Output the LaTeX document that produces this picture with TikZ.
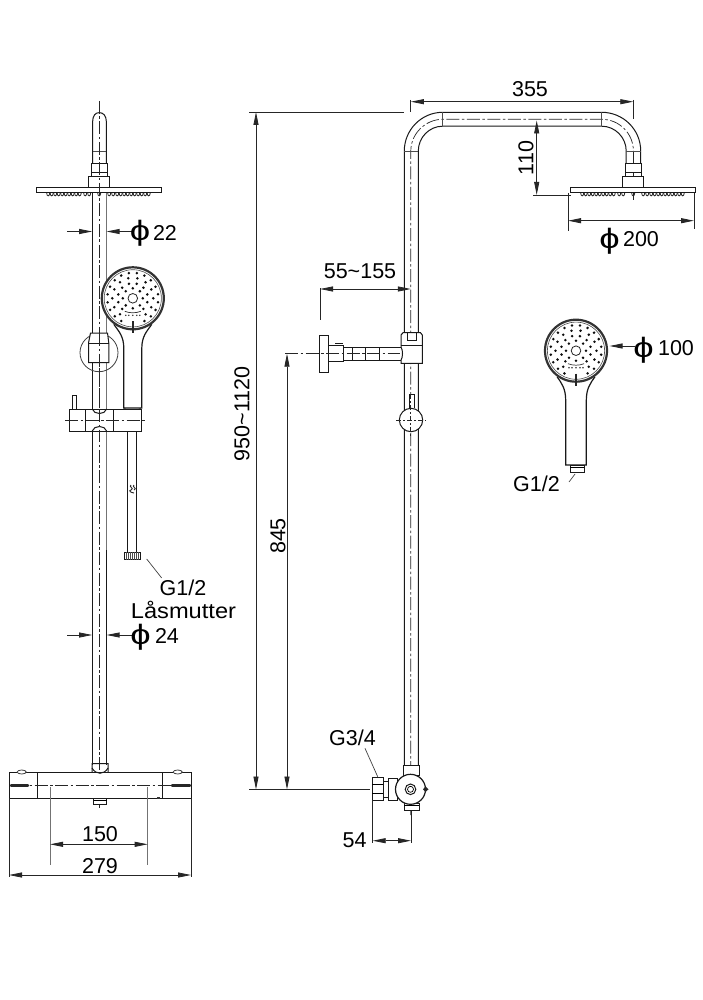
\documentclass[tikz,border=0pt]{standalone}
\usepackage{fontspec}
\setmainfont{Liberation Sans}
\usetikzlibrary{arrows.meta}
\tikzset{
  ln/.style={line width=1pt,draw=black!90},
  gln/.style={line width=1pt,draw=black!55},
  thick line/.style={line width=1.5pt,draw=black!90},
  cl/.style={line width=.7pt,draw=black!85,dash pattern=on 13pt off 2.5pt on 2.5pt off 2.5pt},
  dim/.style={line width=.8pt,draw=black!85},
  dimboth/.style={dim,{Triangle[length=13pt,width=5pt]}-{Triangle[length=13pt,width=5pt]}},
  dimto/.style={dim,-{Triangle[length=13pt,width=5pt]}},
  lab/.style={font=\fontsize{21.5pt}{23pt}\selectfont,inner sep=0pt,text=black},
  phi/.style={font=\fontsize{28pt}{30pt}\selectfont,inner sep=0pt,text=black,xscale=1.3},
}
% plate, block, nozzles of the overhead shower, #1 = centre x
\newcommand{\overhead}[1]{
  \draw[ln,fill=white] (#1-10.5,176.5) rectangle (#1+10.5,188);
  \draw[ln,fill=white] (#1-62.5,188) rectangle (#1+62.5,192.7);
  \foreach \o in {-51,-47.5,...,-18,-14,-10,0,10,14,18,21.5,...,51}{
    \draw[line width=.8pt,draw=black!85] (#1+\o-1.5,193) .. controls (#1+\o-1.5,196.8) and (#1+\o+1.5,196.8) .. (#1+\o+1.5,193);
  }
  \draw[ln] (#1-8,172.5) -- (#1-8,176.5) (#1+8,172.5) -- (#1+8,176.5);
  \draw[ln,fill=white] (#1-8,164) rectangle (#1+8,172.5);
}
% hand shower: #1 cx, #2 cy, #3 half width of the handle, #4 bottom y
\newcommand{\handshower}[4]{
  \draw[ln,line width=1.2pt,fill=white] (#1-19,#2+26) .. controls (#1-14,#2+33) and (#1-#3,#2+38) .. (#1-#3,#2+50)
     -- (#1-#3,#4) -- (#1+#3,#4) -- (#1+#3,#2+50)
     .. controls (#1+#3,#2+38) and (#1+14,#2+33) .. (#1+19,#2+26);
  \draw[line width=2.2pt,draw=black!80,fill=white] (#1,#2) circle[radius=31pt];
  \draw[line width=.6pt,draw=black!70] (#1,#2) circle[radius=28.6pt];
  \draw[line width=.8pt,draw=black!85] (#1,#2) circle[radius=4.8pt];
  \foreach \r/\n/\s in {10/8/0,15/12/15,20.5/14/0,25.5/20/9}{
    \foreach \i in {1,...,\n}{
      \pgfmathsetmacro{\a}{\s+\i*360/\n}
      \pgfmathsetmacro{\dx}{\r*cos(\a)}
      \pgfmathsetmacro{\dy}{\r*sin(\a)}
      \pgfmathparse{(\dy>11 && abs(\dx)<9.5)?0:1}
      \ifnum\pgfmathresult=1
        \fill[black!95] (#1+\dx,#2+\dy) circle[radius=1.4pt];
      \fi
    }
  }
  \draw[line width=.7pt,draw=black!80] (#1-8,#2+13) .. controls (#1-3,#2+15) and (#1+3,#2+15) .. (#1+8,#2+13);
  \foreach \o in {-7,-4,0,4,7}{\fill[black!80] (#1+\o,#2+17) circle[radius=.85pt];}
  \draw[line width=2.2pt,draw=black!85] (#1,#2+23) -- (#1,#2+35);
}
\begin{document}
\begin{tikzpicture}[x=1pt,y=-1pt]
\useasboundingbox (0,0) rectangle (703,1000);
\fill[white] (0,0) rectangle (703,1000);

%==================== LEFT VIEW ====================
% top stub
\draw[ln] (92.6,164) -- (92.6,122) .. controls (92.6,115.5) and (95.5,112.6) .. (99.3,112.6)
  .. controls (103.1,112.6) and (106.4,115.5) .. (106.4,122) -- (106.4,164);
\draw[line width=.6pt,draw=black!70] (92.6,151) -- (106.4,151);
% main pipe
\draw[ln] (92.2,193) -- (92.2,765);
\draw[gln] (106.6,193) -- (106.6,550);
\draw[ln] (106.6,550) -- (106.6,765);
\overhead{99.2}
\draw[cl] (99.3,101) -- (99.3,808);
% bracket behind hand shower
\draw[line width=.8pt,draw=black!75] (99,352.7) circle[radius=19pt];
\draw[ln,fill=white] (90.5,333) -- (107.5,333) -- (108.8,343) -- (108.8,362.7) -- (88.5,362.7) -- (88.5,343) -- cycle;
\draw[ln] (88.5,343) -- (108.8,343);
\draw[cl] (99.3,333) -- (99.3,409);
\handshower{132.8}{298.3}{9}{408}
\draw[line width=.7pt,draw=black!80] (124,408) .. controls (128,412) and (136,412) .. (141,408);
% lower slider
\draw[ln] (72.3,409) -- (72.3,395) -- (76.7,395) -- (76.7,409);
\draw[ln,fill=white] (69,409) rectangle (141,431);
\draw[ln] (85.3,409) -- (85.3,431) (113.3,409) -- (113.3,431);
\draw[ln] (92.2,409) .. controls (94,415) and (105,415) .. (106.6,409);
\draw[ln] (92.2,431) .. controls (94,425) and (105,425) .. (106.6,431);
\draw[cl] (65,420.5) -- (145,420.5);
\draw[cl] (99.3,409) -- (99.3,440);
% hose
\draw[ln] (127,431) -- (127,552) (136.7,431) -- (136.7,552);
\draw[line width=.9pt,draw=black!85] (131,485) .. controls (128,486.5) and (135,488.5) .. (131,490) .. controls (128,491) and (131,492.5) .. (134,493)
  (134,485) .. controls (131,486.5) and (138,488.5) .. (134,490);
\draw[ln,fill=white] (124,552.3) rectangle (140.7,559.7);
\foreach \x in {126,128,...,139}{\draw[line width=.7pt,draw=black!70] (\x,552.3) -- (\x,559.7);}
\node[lab] (g12a) at (183,587.5) {G1/2};
\node[lab,xscale=1.1] (lasa) at (183.5,609.5) {Låsmutter};
\coordinate (g12aS) at (146.7,559);
\coordinate (g12aE) at (161.7,578);
\draw[line width=.7pt,draw=black!75] (g12aS) -- (g12aE);
% phi 22
\coordinate (p22a) at (67,231.5); \coordinate (p22b) at (92.2,231.5);
\coordinate (p22c) at (132,231.5); \coordinate (p22d) at (106.6,231.5);
\draw[dimto] (p22a) -- (p22b);
\draw[dimto] (p22c) -- (p22d);
\node[phi] (phi22) at (140,233) {ϕ};
\node[lab] (t22) at (165,233) {22};
% phi 24
\coordinate (p24a) at (67,635); \coordinate (p24b) at (92.2,635);
\coordinate (p24c) at (132,635); \coordinate (p24d) at (106.6,635);
\draw[dimto] (p24a) -- (p24b);
\draw[dimto] (p24c) -- (p24d);
\node[phi] (phi24) at (140.5,637) {ϕ};
\node[lab] (t24) at (167,636) {24};
% mixer
\draw[ln] (92,772.7) .. controls (94,775.5) and (105,775.5) .. (108,772.7) -- (108,763.5) -- (92,763.5) -- cycle;
\draw[ln,fill=white] (9,772.7) rectangle (191,798);
\draw[ln,fill=white] (37.3,772.7) rectangle (162.3,798);
\draw[ln] (9,798) -- (37.3,798);
\draw[ln] (92,768) .. controls (96,775) and (104,775) .. (108,768);
\draw[cl] (14,785.5) -- (186,785.5);
\draw[line width=2.8pt,draw=black!85,line cap=round] (11,785.3) -- (28,785.3);
\draw[line width=2.8pt,draw=black!85,line cap=round] (172,785.3) -- (190,785.3);
\draw[line width=.8pt,draw=black!75,fill=white] (21.7,772) ellipse[x radius=4.5pt,y radius=2pt];
\draw[line width=.8pt,draw=black!75,fill=white] (177.7,772) ellipse[x radius=4.5pt,y radius=2pt];
\draw[ln,fill=white] (93.5,798) rectangle (106.5,804);
\draw[line width=.7pt] (93.5,800.5) -- (106.5,800.5);
\fill[black!80] (157,796.5) rectangle (160,798.5);
% dimensions of mixer
\coordinate (d150a) at (50,787); \coordinate (d150b) at (147.7,787);
\coordinate (d150c) at (50,865); \coordinate (d150d) at (147.7,865);
\coordinate (d150e) at (50,844.3); \coordinate (d150f) at (147.7,844.3);
\draw[gln,line width=.8pt] (d150a) -- (d150c) (d150b) -- (d150d);
\draw[dimboth] (d150e) -- (d150f);
\node[lab] (t150) at (100,834) {150};
\coordinate (d279a) at (9,798); \coordinate (d279b) at (191,798);
\coordinate (d279c) at (9,877); \coordinate (d279d) at (191,877);
\coordinate (d279e) at (9,875); \coordinate (d279f) at (191,875);
\draw[dim] (d279a) -- (d279c) (d279b) -- (d279d);
\draw[dimboth] (d279e) -- (d279f);
\node[lab] (t279) at (100,866) {279};

%==================== MIDDLE VIEW ====================
\draw[ln] (404.3,765) -- (404.3,151) .. controls (404.3,129.8) and (421.5,112.3) .. (442.7,112.3)
  -- (601.7,112.3) .. controls (623.2,112.3) and (640.7,129.5) .. (640.7,151) -- (640.7,164);
\draw[ln] (418.3,765) -- (418.3,151) .. controls (418.3,137.5) and (429.2,126.2) .. (442.7,126.2)
  -- (601.7,126.2) .. controls (615.2,126.2) and (626.2,137.5) .. (626.2,151) -- (626.2,164);
\draw[cl] (410.8,815) -- (410.8,151) .. controls (410.8,133.7) and (425.4,119.3) .. (442.7,119.3)
  -- (601.7,119.3) .. controls (619.2,119.3) and (633.4,133.5) .. (633.4,151) -- (633.4,200);
\draw[line width=.7pt,draw=black!70] (404.3,151) -- (418.3,151) (442.7,112.3) -- (442.7,126.2) (601.7,112.3) -- (601.7,126.2) (626.2,151) -- (640.7,151);
\overhead{633.2}
% wall arm
\draw[ln,fill=white] (319.3,335) rectangle (328.3,372.3);
\draw[ln,fill=white] (328.3,345) rectangle (343.3,361.7);
\draw[thick line,line width=1pt] (335,343.5) -- (342.5,343.5);
\draw[ln] (343.3,347.3) -- (401,347.3) (343.3,360) -- (401,360);
\draw[ln] (352.3,347.3) -- (352.3,360) (365,347.3) -- (365,360) (379.3,347.3) -- (379.3,360);
% slider
\draw[ln,fill=white] (401,335) -- (403,332.7) -- (420.5,332.7) -- (422.3,335) -- (422.3,363.3) -- (401,363.3) -- (401,360) .. controls (403,358) and (403,349) .. (401,347.3) -- cycle;
\draw[ln] (401,345) -- (422.3,345);
\draw[ln] (407.3,332.7) -- (407.3,340) -- (416,340) -- (416,332.7);
\draw[cl] (285,353.7) -- (400,353.7);
% knob
\draw[ln,fill=white] (409,408) -- (409,394) -- (414,394) -- (414,408);
\draw[ln,fill=white] (411,420) circle[radius=11.7pt];
\draw[cl,dash pattern=on 5pt off 2pt on 2pt off 2pt] (396,420) -- (426,420);
\draw[cl,dash pattern=on 5pt off 2pt on 2pt off 2pt] (410.8,394) -- (410.8,436);
% valve
\draw[ln,fill=white] (403.5,765) rectangle (419,775);
\draw[ln,fill=white] (372.3,777.3) rectangle (383.3,800);
\draw[line width=.7pt] (372.3,784.5) -- (383.3,784.5) (372.3,793) -- (383.3,793);
\draw[ln] (383.3,781) -- (388,781) -- (388,797) -- (383.3,797);
\draw[ln,fill=white] (388,778) -- (397,778) -- (397,800) -- (388,800) -- cycle;
\draw[ln,fill=white] (404.3,803.3) rectangle (419,810.7);
\draw[line width=.7pt] (404.3,805.5) -- (419,805.5);
\draw[line width=1.2pt,draw=black!90,fill=white] (410.5,789.3) circle[radius=15pt];
\draw[ln] (410.5,789.3) circle[radius=5.3pt];
\draw[line width=.7pt] (410.5,789.3) circle[radius=3pt];
\fill[black!85] (428.5,789.3) -- (425.5,786.5) -- (423,789.3) -- (425.5,792) -- cycle;
% G3/4
\node[lab] (g34) at (352.5,738.3) {G3/4};
\coordinate (g34a) at (365,748.3); \coordinate (g34b) at (377.7,776.7);
\draw[line width=.7pt,draw=black!75] (g34a) -- (g34b);
% 54
\coordinate (d54a) at (372.7,800); \coordinate (d54b) at (372.7,843);
\coordinate (d54c) at (411,811); \coordinate (d54d) at (411,843);
\draw[dim] (d54a) -- (d54b) (d54c) -- (d54d);
\coordinate (d54e) at (372.7,840.7); \coordinate (d54f) at (411,840.7);
\draw[dimboth] (d54e) -- (d54f);
\node[lab] (t54) at (354.5,840.5) {54};
% long dims
\coordinate (e1a) at (249,112); \coordinate (e1b) at (404.3,112);
\coordinate (e2a) at (249,789.5); \coordinate (e2b) at (370,789.5);
\draw[dim] (e1a) -- (e1b);
\draw[dim] (e2a) -- (e2b);
\coordinate (v1a) at (256,112); \coordinate (v1b) at (256,789.5);
\draw[dimboth] (v1a) -- (v1b);
\node[lab,rotate=90] (t950) at (242,414) {950\textasciitilde 1120};
\coordinate (v2a) at (287,353.7); \coordinate (v2b) at (287,789.5);
\draw[dimboth] (v2a) -- (v2b);
\node[lab,rotate=90] (t845) at (278,536) {845};
% 355
\coordinate (d355a) at (410.8,101.7); \coordinate (d355b) at (633.3,101.7);
\draw[dim] (410.8,100) -- (410.8,112);
\draw[dim] (633.3,100) -- (633.3,119);
\draw[dimboth] (d355a) -- (d355b);
\node[lab] (t355) at (530,89.5) {355};
% 110
\coordinate (d110a) at (536.7,120.5); \coordinate (d110b) at (536.7,195);
\draw[dimboth] (d110a) -- (d110b);
\draw[dim] (533,195) -- (570.7,195);
\node[lab,rotate=90] (t110) at (526,158) {110};
% phi 200
\coordinate (d200a) at (568,220.7); \coordinate (d200b) at (694,220.7);
\draw[dim] (568,193) -- (568,231) (694,193) -- (694,229);
\draw[dimboth] (d200a) -- (d200b);
\node[phi] (phi200) at (609.5,241) {ϕ};
\node[lab] (t200) at (641,239) {200};
% 55~155
\coordinate (d55a) at (320,289); \coordinate (d55b) at (410.8,289);
\draw[dim] (320,288) -- (320,320);
\draw[dimboth] (d55a) -- (d55b);
\node[lab] (t55) at (360,271) {55\textasciitilde 155};

%==================== RIGHT HAND SHOWER ====================
\handshower{576}{350.7}{10.3}{465}
\draw[ln,fill=white] (570,465) rectangle (584,472);
\draw[line width=.7pt] (570,467.5) -- (584,467.5);
\coordinate (p100a) at (635,346); \coordinate (p100b) at (609.5,346);
\draw[dimto] (p100a) -- (p100b);
\node[phi] (phi100) at (643.5,350) {ϕ};
\node[lab] (t100) at (676,348) {100};
\node[lab] (g12b) at (536.5,484) {G1/2};
\coordinate (g12bS) at (575,474); \coordinate (g12bE) at (569,482);
\draw[line width=.7pt,draw=black!70] (g12bS) -- (g12bE);
\end{tikzpicture}
\end{document}
